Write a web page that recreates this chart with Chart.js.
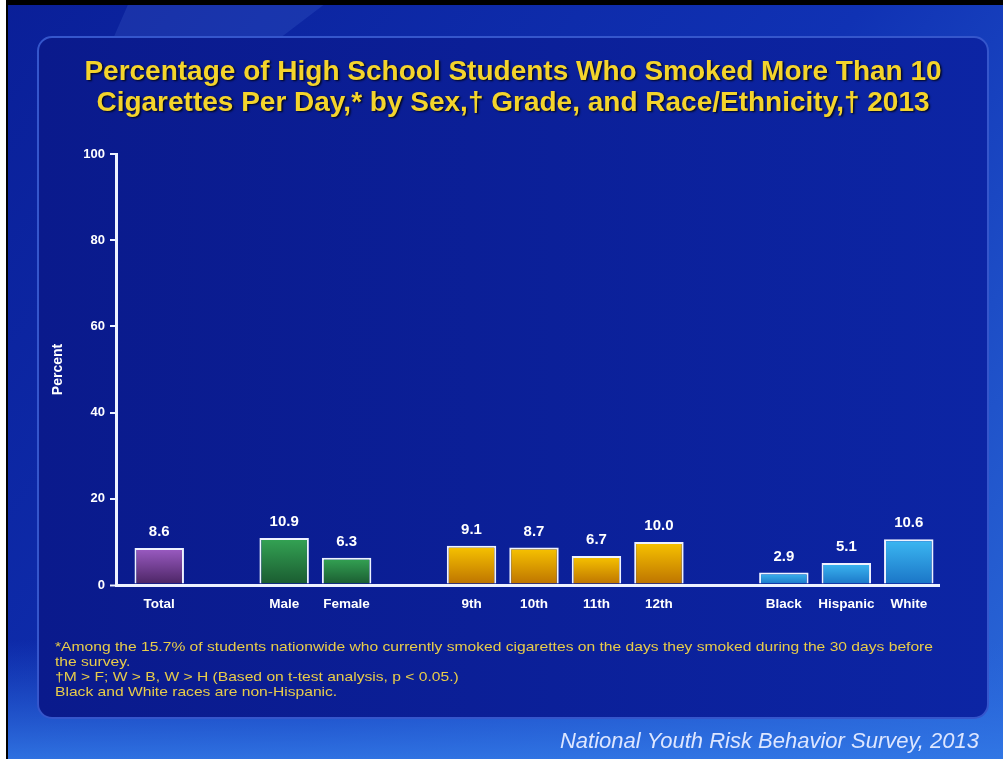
<!DOCTYPE html>
<html lang="en">
<head>
    <meta charset="UTF-8">
    <title>Smoked More Than 10 Cigarettes Per Day, 2013</title>
    <style>
        html, body { margin: 0; padding: 0; background: #fff; }
        #wrap { width: 1003px; height: 759px; position: relative; }
    </style>
</head>
<body>
    <div id="wrap"><canvas id="smokeChart"></canvas></div>

    <script src="https://cdn.jsdelivr.net/npm/chart.js@4/dist/chart.umd.min.js"></script>

    <script>
        // blank labels leave the gaps between the groups
        const categories = ['Total', '', 'Male', 'Female', '', '9th', '10th', '11th', '12th', '', 'Black', 'Hispanic', 'White'];
        const percents = [8.6, null, 10.9, 6.3, null, 9.1, 8.7, 6.7, 10.0, null, 2.9, 5.1, 10.6];
        const groups = ['total', null, 'sex', 'sex', null, 'grade', 'grade', 'grade', 'grade', null, 'race', 'race', 'race'];
        const yTicks = [0, 20, 40, 60, 80, 100];

        const titleLines = [
            'Percentage of High School Students Who Smoked More Than 10',
            'Cigarettes Per Day,* by Sex,\u2020 Grade, and Race/Ethnicity,\u2020 2013'
        ];
        const footnotes = [
            '*Among the 15.7% of students nationwide who currently smoked cigarettes on the days they smoked during the 30 days before',
            'the survey.',
            '\u2020M > F; W > B, W > H (Based on t-test analysis, p < 0.05.)',
            'Black and White races are non-Hispanic.'
        ];
        const source = 'National Youth Risk Behavior Survey, 2013';

        const groupColors = {
            total: ['#9c5cc4', '#4a2462'],
            sex:   ['#34a454', '#1a5a30'],
            grade: ['#f8c400', '#bc7200'],
            race:  ['#3cb8f2', '#1a74c6']
        };

        const FONT = '"Liberation Sans", Arial, sans-serif';
        const LINE = '#eef2ff';

        function barFill(ctx) {
            const grp = groups[ctx.dataIndex];
            if (!grp) return 'transparent';
            const c = groupColors[grp];
            const chart = ctx.chart;
            if (!chart.chartArea || !chart.scales.y) return c[0];
            const y = chart.scales.y;
            const top = y.getPixelForValue(percents[ctx.dataIndex]);
            const bottom = y.getPixelForValue(0);
            const g = chart.ctx.createLinearGradient(0, top, 0, bottom);
            g.addColorStop(0, c[0]);
            g.addColorStop(1, c[1]);
            return g;
        }

        // draw a line stretched horizontally by scaleX
        function fitText(ctx, text, x, y, scaleX) {
            ctx.save();
            ctx.translate(x, y);
            ctx.scale(scaleX, 1);
            ctx.fillText(text, 0, 0);
            ctx.restore();
        }

        const slideBackground = {
            id: 'slideBackground',
            beforeDraw(chart) {
                const ctx = chart.ctx;
                const w = chart.width, h = chart.height;
                ctx.save();
                // slide
                let g = ctx.createLinearGradient(0, 0, w, h);
                g.addColorStop(0, '#0a1f98');
                g.addColorStop(0.55, '#1032b4');
                g.addColorStop(1, '#2a68d8');
                ctx.fillStyle = g;
                ctx.fillRect(0, 0, w, h);
                g = ctx.createLinearGradient(0, 640, 0, h);
                g.addColorStop(0, 'rgba(40,100,220,0)');
                g.addColorStop(1, 'rgba(50,120,230,0.9)');
                ctx.fillStyle = g;
                ctx.fillRect(0, 640, w, h - 640);
                // lighter diagonal streak in the top band
                ctx.fillStyle = 'rgba(90,130,230,0.18)';
                ctx.beginPath();
                ctx.moveTo(130, 0); ctx.lineTo(330, 0); ctx.lineTo(120, 160); ctx.lineTo(60, 160);
                ctx.closePath();
                ctx.fill();

                // panel
                const px = 38, py = 37, pw = 950, ph = 681, r = 14;
                g = ctx.createLinearGradient(px, 0, px + pw, 0);
                g.addColorStop(0, '#0a1a8c');
                g.addColorStop(1, '#0c25a4');
                ctx.fillStyle = g;
                ctx.beginPath();
                ctx.roundRect(px, py, pw, ph, r);
                ctx.fill();
                ctx.strokeStyle = '#3556cc';
                ctx.lineWidth = 2;
                ctx.stroke();

                // photo frame
                ctx.fillStyle = '#000';
                ctx.fillRect(0, 0, w, 5);
                ctx.fillStyle = '#fff';
                ctx.fillRect(0, 0, 6, h);
                ctx.fillStyle = '#000';
                ctx.fillRect(6, 0, 2, h);
                ctx.restore();
            },
            // the first bar sits a little to the right of the y axis
            afterLayout(chart) {
                const x = chart.scales.x;
                x.left += 12;
                x.width = x.right - x.left;
                x.configure();
            },
            afterDraw(chart) {
                const ctx = chart.ctx;
                ctx.save();
                // title
                ctx.font = 'bold 28px ' + FONT;
                ctx.textAlign = 'center';
                ctx.textBaseline = 'middle';
                ctx.shadowColor = 'rgba(0,0,0,0.8)';
                ctx.shadowOffsetX = 1.5;
                ctx.shadowOffsetY = 1.5;
                ctx.shadowBlur = 2;
                ctx.fillStyle = '#f4d42c';
                titleLines.forEach((t, i) => ctx.fillText(t, 513, 72 + i * 31));
                ctx.shadowColor = 'transparent';

                // footnotes, first line runs to x = 933
                ctx.font = '13px ' + FONT;
                ctx.textAlign = 'left';
                ctx.fillStyle = '#e8cc4a';
                const sx = 878 / ctx.measureText(footnotes[0]).width;
                footnotes.forEach((t, i) => fitText(ctx, t, 55, 647 + i * 15, sx));

                // source
                ctx.font = 'italic 22px ' + FONT;
                ctx.textAlign = 'right';
                ctx.fillStyle = '#dde6ff';
                ctx.fillText(source, 979, 742);
                ctx.restore();
            }
        };

        const barValues = {
            id: 'barValues',
            afterDatasetsDraw(chart) {
                const ctx = chart.ctx;
                const meta = chart.getDatasetMeta(0);
                ctx.save();
                ctx.font = 'bold 15px ' + FONT;
                ctx.fillStyle = '#ffffff';
                ctx.textAlign = 'center';
                ctx.textBaseline = 'middle';
                meta.data.forEach((bar, i) => {
                    if (percents[i] == null) return;
                    ctx.fillText(percents[i].toFixed(1), bar.x, bar.y - 16);
                });
                ctx.restore();
            }
        };

        const config = {
            type: 'bar',
            data: {
                labels: categories,
                datasets: [
                    {
                        label: 'Percent',
                        data: percents,
                        backgroundColor: barFill,
                        borderColor: LINE,
                        borderWidth: 2,
                        barPercentage: 0.8,
                        categoryPercentage: 0.99
                    }
                ]
            },
            options: {
                responsive: false,
                animation: false,
                layout: {
                    padding: { left: 30, right: 63, top: 154, bottom: 134 }
                },
                plugins: {
                    legend: { display: false },
                    title: { display: false },
                    tooltip: { enabled: false }
                },
                scales: {
                    x: {
                        grid: { display: false, drawTicks: false },
                        border: { display: false },
                        ticks: {
                            color: '#ffffff',
                            font: { family: FONT, size: 13.5, weight: 'bold' },
                            padding: 11,
                            maxRotation: 0,
                            autoSkip: false
                        },
                        afterFit(scale) { scale.height = 40; }
                    },
                    y: {
                        min: 0,
                        max: 100,
                        afterBuildTicks(scale) { scale.ticks = yTicks.map(v => ({ value: v })); },
                        // only the zero line crosses the plot: it is the x axis line
                        grid: {
                            drawOnChartArea: true,
                            drawTicks: true,
                            tickLength: 6,
                            color: (c) => (c.tick && c.tick.value === 0 ? LINE : 'rgba(0,0,0,0)'),
                            tickColor: LINE,
                            lineWidth: (c) => (c.tick && c.tick.value === 0 ? 3 : 2),
                            tickWidth: 2,
                            z: 1
                        },
                        border: { display: true, color: LINE, width: 3, z: 1 },
                        ticks: {
                            color: '#ffffff',
                            font: { family: FONT, size: 13, weight: 'bold' },
                            padding: 5
                        },
                        title: {
                            display: true,
                            text: 'Percent',
                            color: '#ffffff',
                            font: { family: FONT, size: 14, weight: 'bold' },
                            padding: { top: 20, bottom: 0 }
                        },
                        afterFit(scale) { scale.width = 86; }
                    }
                }
            },
            plugins: [slideBackground, barValues]
        };

        const canvas = document.getElementById('smokeChart');
        canvas.width = 1003;
        canvas.height = 759;
        new Chart(canvas.getContext('2d'), config);
    </script>
</body>
</html>
